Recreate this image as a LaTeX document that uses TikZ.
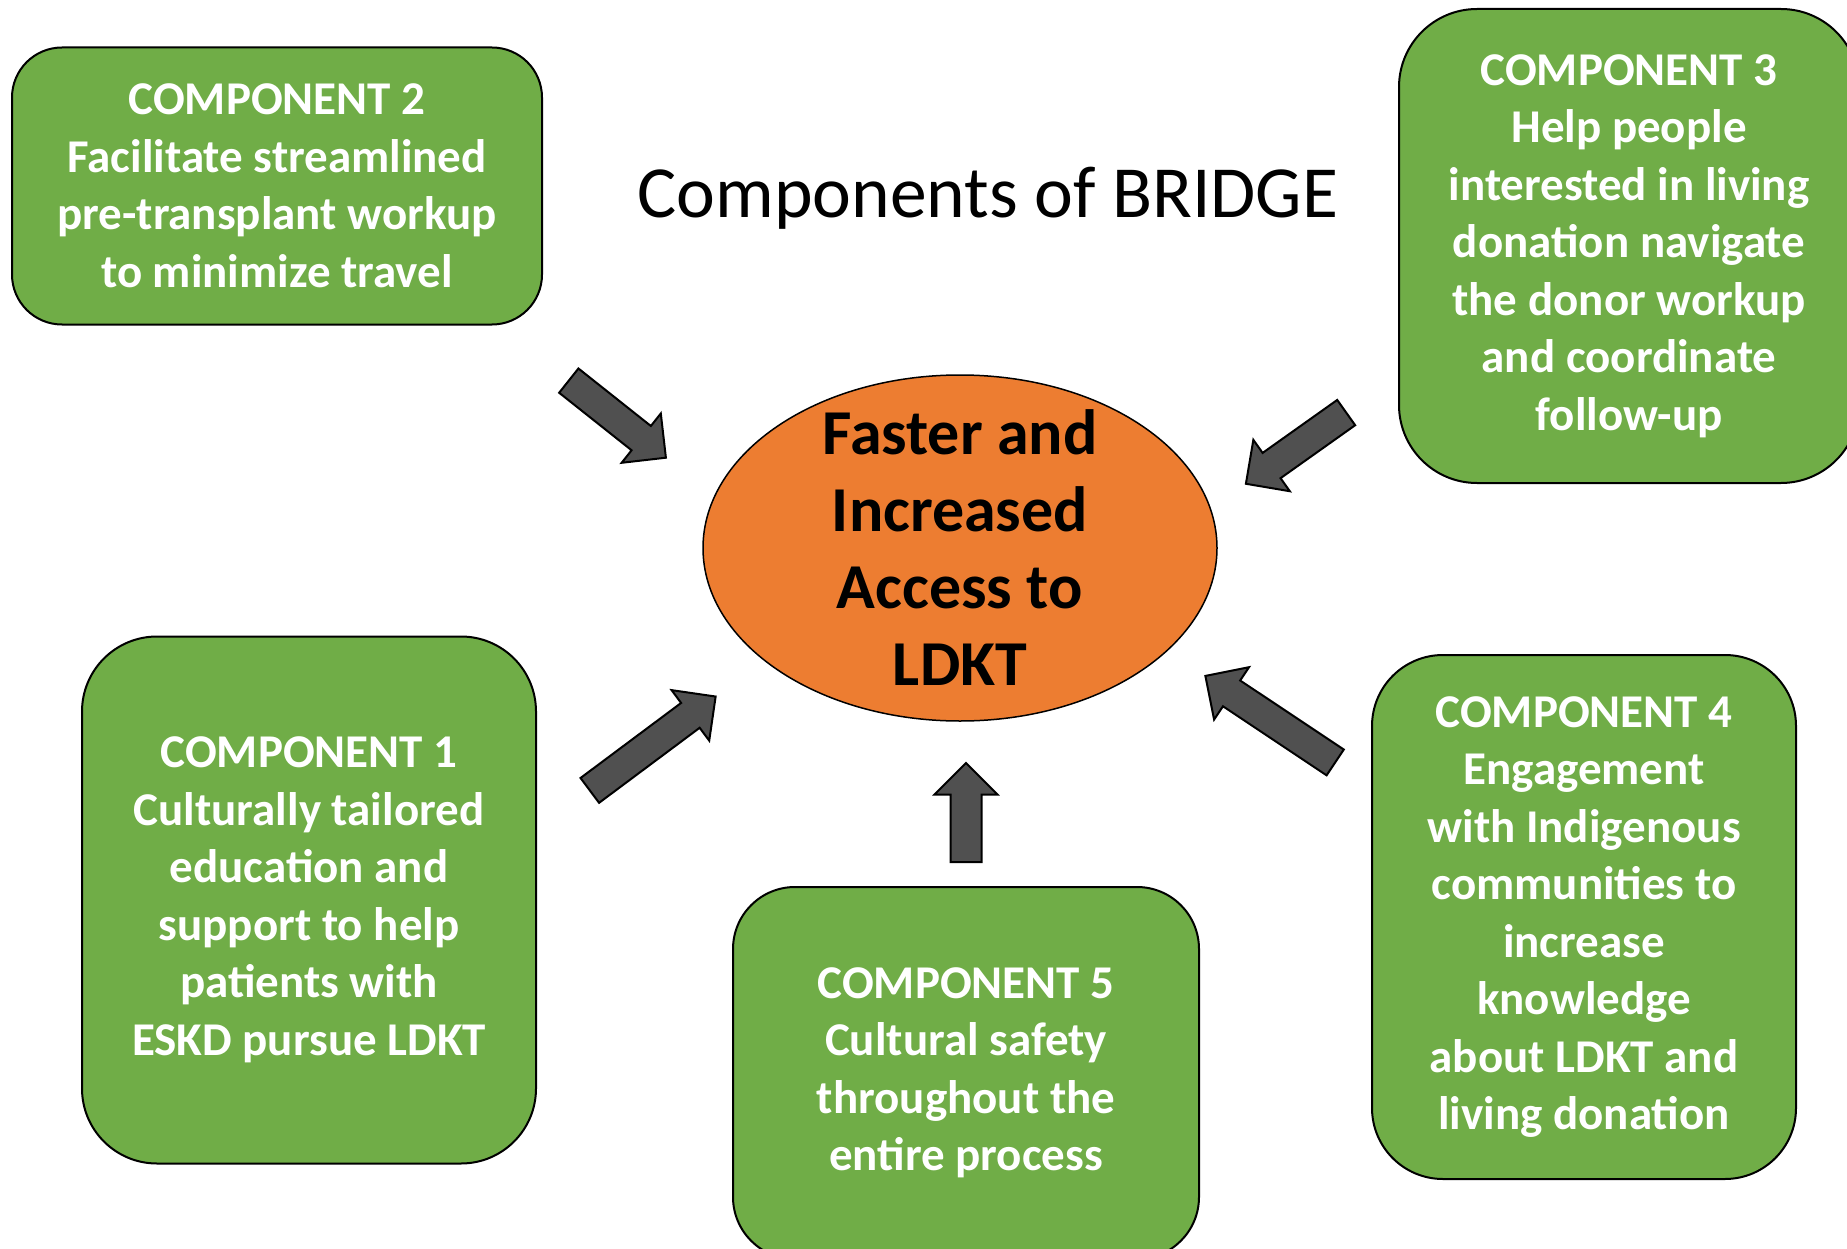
\documentclass[tikz,border=0pt]{standalone}
\usepackage{fontspec}
\setmainfont{Carlito}
\usetikzlibrary{shapes.geometric,shapes.arrows,positioning}

\definecolor{compgreen}{HTML}{70AD47}
\definecolor{goalorange}{HTML}{ED7D31}
\definecolor{arrowgray}{HTML}{505050}

\begin{document}
\begin{tikzpicture}[
        x=1pt, y=-1pt,
        comp/.style={draw, line width=2pt, fill=compgreen, text=white, align=center,
            font=\fontsize{47pt}{57.5pt}\selectfont\bfseries, inner sep=0pt},
        goal/.style={ellipse, draw, line width=1.5pt, fill=goalorange, inner sep=0pt},
        goaltext/.style={align=center, font=\fontsize{64pt}{77pt}\selectfont\bfseries},
        blockarrow/.style={single arrow, draw, line width=2pt, fill=arrowgray,
            inner xsep=0pt, inner ysep=14.5pt, single arrow head extend=16pt,
            sloped, allow upside down, pos=0, anchor=tail}
    ]

    \useasboundingbox (0,0) rectangle (1847,1249);
    \clip (0,0) rectangle (1847,1249);

    % Title
    \node (title) [anchor=base, font=\fontsize{73.5pt}{88pt}\selectfont] at (988,218) {Components of BRIDGE};

    % Goal in the middle
    \node (core) [goal, minimum width=514pt, minimum height=346pt] at (960,548) {};
    \node (coretext) [goaltext] at (core) {Faster and\\ Increased\\ Access to\\ LDKT};

    % Components
    \node (c1) [comp, minimum width=454pt, minimum height=527pt, rounded corners=75pt] at (309,900)
        {COMPONENT 1\\ Culturally tailored\\ education and\\ support to help\\ patients with\\ ESKD pursue LDKT};
    \node (c2) [comp, minimum width=530pt, minimum height=277pt, rounded corners=50pt] at (277,186)
        {COMPONENT 2\\ Facilitate streamlined\\ pre-transplant workup\\ to minimize travel};
    \node (c3) [comp, minimum width=460pt, minimum height=474pt, rounded corners=78pt] at (1629,246)
        {COMPONENT 3\\ Help people\\ interested in living\\ donation navigate\\ the donor workup\\ and coordinate\\ follow-up};
    \node (c4) [comp, minimum width=424pt, minimum height=524pt, rounded corners=71pt] at (1584,917)
        {COMPONENT 4\\ Engagement\\ with Indigenous\\ communities to\\ increase\\ knowledge\\ about LDKT and\\ living donation};
    \node (c5) [comp, minimum width=466pt, minimum height=372pt, rounded corners=62pt] at (966,1073)
        {COMPONENT 5\\ Cultural safety\\ throughout the\\ entire process};

    % Arrows towards the goal
    \coordinate (t1) at (589,791);  \coordinate (h1) at (715,697);
    \coordinate (t2) at (568,380);  \coordinate (h2) at (665,457);
    \coordinate (t3) at (1347,412); \coordinate (h3) at (1247,483);
    \coordinate (t4) at (1336,763); \coordinate (h4) at (1207,677);
    \coordinate (t5) at (966,863);  \coordinate (h5) at (966,764);

    \path (t1) -- node[blockarrow, minimum height=157pt] (arr1) {} (h1);
    \path (t2) -- node[blockarrow, minimum height=124pt] (arr2) {} (h2);
    \path (t3) -- node[blockarrow, minimum height=123pt] (arr3) {} (h3);
    \path (t4) -- node[blockarrow, minimum height=156pt] (arr4) {} (h4);
    \path (t5) -- node[blockarrow, minimum height=99pt] (arr5) {} (h5);

\end{tikzpicture}
\end{document}
